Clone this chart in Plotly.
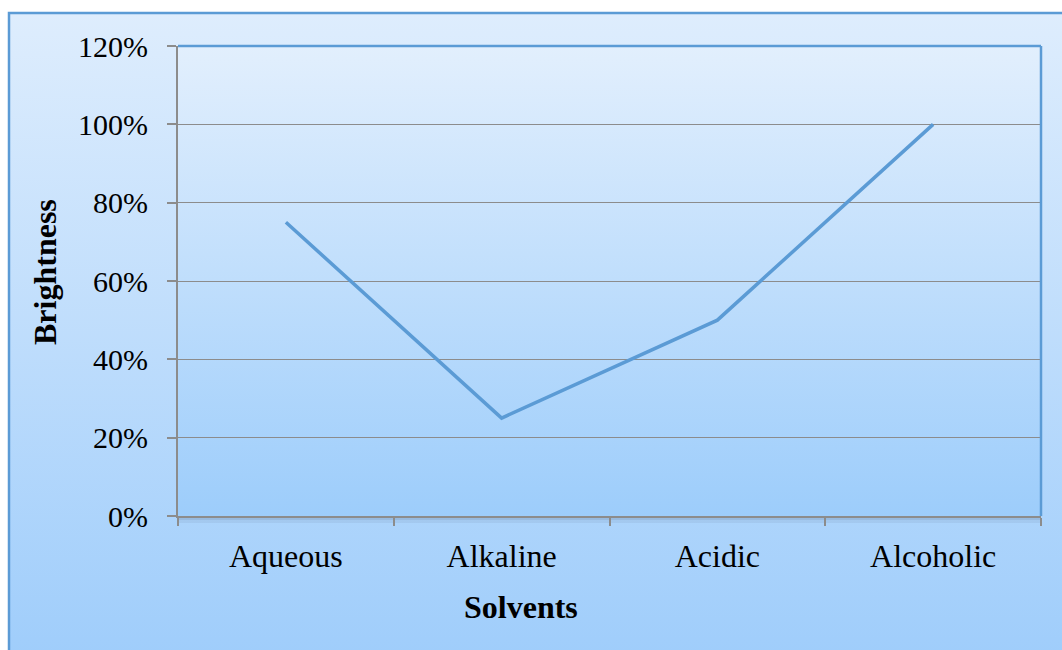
import base64
import plotly.graph_objects as go

# Brightness of the extract in each solvent
solvents = ["Aqueous", "Alkaline", "Acidic", "Alcoholic"]
brightness = [0.75, 0.25, 0.50, 1.00]
y_ticks = [0, 0.2, 0.4, 0.6, 0.8, 1.0, 1.2]

W, H = 1062, 650
M_L, M_R, M_T, M_B = 178, 21, 46, 134
PW, PH = W - M_L - M_R, H - M_T - M_B


def px_x(p):
    return (p - M_L) / PW


def px_y(p):
    return (H - M_B - p) / PH


def gradient_uri(top, bottom):
    svg = (
        '<svg xmlns="http://www.w3.org/2000/svg" width="100" height="100" '
        'preserveAspectRatio="none" viewBox="0 0 100 100">'
        '<defs><linearGradient id="g" x1="0" y1="0" x2="0" y2="1">'
        f'<stop offset="0" stop-color="{top}"/>'
        f'<stop offset="1" stop-color="{bottom}"/>'
        '</linearGradient></defs>'
        '<rect width="100" height="100" fill="url(#g)"/></svg>'
    )
    return "data:image/svg+xml;base64," + base64.b64encode(svg.encode()).decode()


FONT = "Liberation Serif, Times New Roman, serif"
LINE_BLUE = "#5b9bd5"
GRID = "#8c8c8c"

fig = go.Figure()
fig.add_trace(go.Scatter(
    x=solvents, y=brightness, mode="lines",
    line=dict(color=LINE_BLUE, width=3.5),
    hoverinfo="skip", showlegend=False,
))

# chart and plot area backgrounds
ox0, ox1 = px_x(9), px_x(1070)
oy0, oy1 = px_y(13), px_y(660)
fig.add_layout_image(dict(
    source=gradient_uri("#deedfd", "#9fcdfb"), xref="paper", yref="paper",
    x=ox0, y=oy0, sizex=ox1 - ox0, sizey=oy0 - oy1,
    xanchor="left", yanchor="top", sizing="stretch", layer="below",
))
fig.add_layout_image(dict(
    source=gradient_uri("#e2effd", "#9dcdfb"), xref="paper", yref="paper",
    x=0, y=1, sizex=1, sizey=1,
    xanchor="left", yanchor="top", sizing="stretch", layer="below",
))

shapes = [
    # outer chart border
    dict(type="rect", xref="paper", yref="paper", x0=ox0, x1=ox1, y0=oy1, y1=oy0,
         line=dict(color=LINE_BLUE, width=2.5), fillcolor="rgba(0,0,0,0)", layer="below"),
    # soft shadow under the plot area
    dict(type="rect", xref="paper", yref="paper", x0=0, x1=1, y0=px_y(523), y1=0,
         line=dict(width=0), fillcolor="rgba(90,110,140,0.10)", layer="below"),
    dict(type="rect", xref="paper", yref="paper", x0=0, x1=1, y0=px_y(520), y1=0,
         line=dict(width=0), fillcolor="rgba(90,110,140,0.15)", layer="below"),
    # plot area border, top and right
    dict(type="line", xref="paper", yref="paper", x0=0, x1=1, y0=1, y1=1,
         line=dict(color=LINE_BLUE, width=2.5)),
    dict(type="line", xref="paper", yref="paper", x0=1, x1=1, y0=0, y1=1,
         line=dict(color=LINE_BLUE, width=2.5)),
]

# axis titles, placed relative to the whole chart box
annotations = [
    dict(text="<b>Solvents</b>", xref="paper", yref="paper",
         x=px_x(521), y=px_y(607), xanchor="center", yanchor="middle",
         showarrow=False, font=dict(family=FONT, size=32)),
    dict(text="<b>Brightness</b>", xref="paper", yref="paper",
         x=px_x(45), y=px_y(272), xanchor="center", yanchor="middle",
         textangle=-90, showarrow=False, font=dict(family=FONT, size=32)),
]

fig.update_layout(
    width=W, height=H,
    margin=dict(l=M_L, r=M_R, t=M_T, b=M_B, pad=0),
    paper_bgcolor="white",
    plot_bgcolor="rgba(0,0,0,0)",
    font=dict(family=FONT, size=30, color="black"),
    shapes=shapes,
    annotations=annotations,
    showlegend=False,
)
fig.update_xaxes(
    type="category", range=[-0.5, 3.5],
    tickson="boundaries", ticks="outside", ticklen=8, tickwidth=1.5, tickcolor=GRID,
    showline=True, linecolor=GRID, linewidth=2,
    showgrid=False, zeroline=False,
    tickfont=dict(family=FONT, size=32),
    ticklabelstandoff=11,
)
fig.update_yaxes(
    range=[0, 1.2], tickvals=y_ticks, tickformat=".0%",
    ticks="outside", ticklen=9, tickwidth=1.5, tickcolor=GRID,
    showline=True, linecolor=GRID, linewidth=2,
    showgrid=True, gridcolor=GRID, gridwidth=1, zeroline=False,
    tickfont=dict(family=FONT, size=30),
    ticklabelstandoff=13,
)

fig.write_html("out.html")
